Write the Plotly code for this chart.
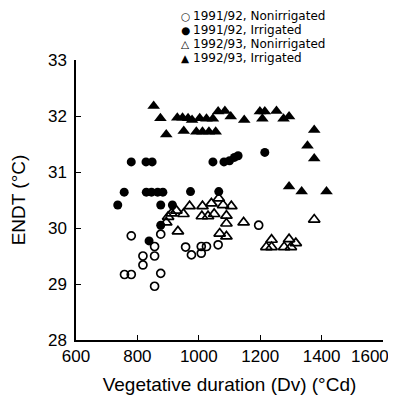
import plotly.graph_objects as go

# 1991/92, Nonirrigated (open circles)
nonirr91_x = [780, 876, 856, 818, 856, 818, 758, 780, 876, 856, 957, 976, 1008, 1025, 1008, 1063, 1195]
nonirr91_y = [29.86, 29.89, 29.67, 29.50, 29.50, 29.34, 29.17, 29.17, 29.19, 28.96, 29.66, 29.52, 29.67, 29.67, 29.55, 29.70, 30.05]

# 1991/92, Irrigated (filled circles)
irr91_x = [780, 828, 848, 1046, 1082, 1100, 1116, 1128, 1215, 757, 829, 846, 866, 883, 973, 1065, 736, 876, 914, 876, 838]
irr91_y = [31.18, 31.18, 31.18, 31.18, 31.18, 31.20, 31.26, 31.29, 31.35, 30.64, 30.64, 30.64, 30.64, 30.64, 30.65, 30.65, 30.41, 30.41, 30.41, 30.05, 29.77]

# 1992/93, Nonirrigated (open triangles)
nonirr92_x = [970, 927, 950, 911, 900, 894, 932, 1012, 1041, 1065, 1079, 1106, 1010, 1030, 1050, 1090, 1090, 1068, 1090, 1146, 1237, 1220, 1237, 1294, 1278, 1300, 1316, 1376]
nonirr92_y = [30.39, 30.31, 30.25, 30.26, 30.20, 30.10, 29.94, 30.39, 30.44, 30.53, 30.41, 30.39, 30.21, 30.21, 30.25, 30.22, 30.08, 29.90, 29.85, 30.10, 29.79, 29.66, 29.66, 29.80, 29.66, 29.66, 29.73, 30.15]

# 1992/93, Irrigated (filled triangles)
irr92_x = [853, 875, 930, 947, 965, 978, 1003, 1025, 1046, 1063, 1085, 1104, 1148, 1199, 1215, 1207, 1253, 1276, 1294,
           894, 951, 992, 1012, 1033, 1055,
           1376, 1354, 1376, 1294, 1335, 1416]
irr92_y = [32.18, 31.96, 31.97, 31.97, 31.96, 31.93, 31.96, 31.95, 31.95, 32.08, 32.09, 31.99, 31.93, 32.08, 32.08, 31.95, 32.09, 31.95, 31.99,
           31.67, 31.73, 31.72, 31.72, 31.72, 31.72,
           31.75, 31.47, 31.24, 30.74, 30.65, 30.65]

series_names = ["1991/92, Nonirrigated", "1991/92, Irrigated", "1992/93, Nonirrigated", "1992/93, Irrigated"]
legend_glyphs = ["○", "●", "△", "▲"]

x_ticks = [600, 800, 1000, 1200, 1400, 1600]
x_tick_labels = ["600", "800", "1000", "1200", "1400", "1600"]
y_ticks = [28, 29, 30, 31, 32, 33]
y_tick_labels = ["28", "29", "30", "31", "32", "33"]

FONT = "Liberation Sans, Arial, Helvetica, sans-serif"

# page body adds an 8px offset, so the figure is 8px smaller on each axis
OFF = 8
W, H = 396 - OFF, 401 - OFF
ML, MR, MT, MB = 76 - OFF, 13, 60 - OFF, 61
plot_w = W - ML - MR
plot_h = H - MT - MB

fig = go.Figure()
fig.add_trace(go.Scatter(x=nonirr91_x, y=nonirr91_y, mode="markers", name=series_names[0],
                         marker=dict(symbol="circle-open", size=8, color="black", line=dict(width=1.7))))
fig.add_trace(go.Scatter(x=irr91_x, y=irr91_y, mode="markers", name=series_names[1],
                         marker=dict(symbol="circle", size=9, color="black")))
fig.add_trace(go.Scatter(x=nonirr92_x, y=nonirr92_y, mode="markers", name=series_names[2],
                         marker=dict(symbol="triangle-up-open", size=10, color="black", line=dict(width=1.7))))
fig.add_trace(go.Scatter(x=irr92_x, y=irr92_y, mode="markers", name=series_names[3],
                         marker=dict(symbol="triangle-up", size=11, color="black")))

# legend drawn as text rows (tight spacing like the original)
annotations = []
for i, (glyph, name) in enumerate(zip(legend_glyphs, series_names)):
    row_y_px = 16 + 14 * i - OFF
    ypaper = (H - MB - row_y_px) / plot_h
    annotations.append(dict(xref="paper", yref="paper", x=(185 - OFF - ML) / plot_w, y=ypaper,
                            text=glyph, showarrow=False, xanchor="center", yanchor="middle",
                            borderpad=0,
                            font=dict(family="DejaVu Sans, sans-serif", size=10.5, color="black")))
    annotations.append(dict(xref="paper", yref="paper", x=(192 - OFF - ML) / plot_w, y=ypaper,
                            text=name, showarrow=False, xanchor="left", yanchor="middle",
                            borderpad=0,
                            font=dict(family="DejaVu Sans, sans-serif", size=12, color="black")))

# last x tick label drawn shifted left so it stays inside the page, as in the original
annotations.append(dict(xref="x", yref="paper", x=x_ticks[-1], y=0, text=x_tick_labels[-1],
                        showarrow=False, xanchor="center", yanchor="middle", xshift=-13, yshift=-16,
                        borderpad=0, font=dict(family=FONT, size=17, color="black")))

fig.update_layout(
    width=W, height=H,
    margin=dict(l=ML, r=MR, t=MT, b=MB, autoexpand=False),
    paper_bgcolor="white", plot_bgcolor="white",
    font=dict(family=FONT, color="black", size=15),
    showlegend=False,
    annotations=annotations,
)
x_text = x_tick_labels[:-1] + [""]
fig.update_xaxes(range=[600, 1600], tickvals=x_ticks, ticktext=x_text, ticks="inside", ticklen=5, tickcolor="black",
                 showline=True, linecolor="black", linewidth=1.5, showgrid=False, zeroline=False,
                 automargin=False,
                 title=dict(text="Vegetative duration (Dv) (°Cd)", font=dict(size=19), standoff=13),
                 tickfont=dict(size=17))
fig.update_yaxes(range=[28, 33], tickvals=y_ticks, ticktext=y_tick_labels, ticks="inside", ticklen=5, tickcolor="black",
                 showline=True, linecolor="black", linewidth=1.5, showgrid=False, zeroline=False,
                 ticklabelstandoff=4, automargin=False,
                 title=dict(text="ENDT (°C)", font=dict(size=19), standoff=20),
                 tickfont=dict(size=17))

fig.write_html("out.html")
